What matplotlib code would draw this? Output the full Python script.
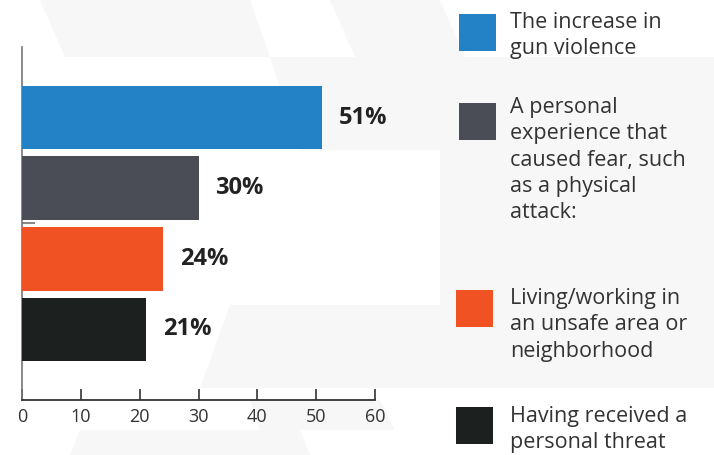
import matplotlib.pyplot as plt
from matplotlib.patches import Polygon

# Данные
values = [51, 30, 24, 21]
value_labels = ["51%", "30%", "24%", "21%"]
colors = ["#2381C6", "#4A4D55", "#F05223", "#1C201F"]
legend_labels = [
    "The increase in\ngun violence",
    "A personal\nexperience that\ncaused fear, such\nas a physical\nattack:",
    "Living/working in\nan unsafe area or\nneighborhood",
    "Having received a\npersonal threat",
]
xticks = [0, 10, 20, 30, 40, 50, 60]

W, H = 714, 455
fig = plt.figure(figsize=(W / 100, H / 100), dpi=100)
fig.patch.set_facecolor("white")

def px(x, y):
    return (x / W, 1 - y / H)

# фон: светло-серые шестиугольные фрагменты
bg = "#f7f7f7"
shapes = [
    [(40, 0), (250, 0), (270, 57), (65, 57)],
    [(330, 0), (440, 0), (465, 57), (355, 57)],
    [(440, 57), (714, 57), (714, 388), (440, 388)],
    [(270, 57), (440, 57), (440, 150), (300, 150)],
    [(230, 305), (440, 305), (440, 388), (200, 388)],
    [(250, 400), (380, 400), (395, 430), (260, 430)],
    [(80, 430), (300, 430), (310, 455), (70, 455)],
]
for s in shapes:
    fig.patches.append(Polygon([px(*p) for p in s], closed=True,
                               transform=fig.transFigure, facecolor=bg,
                               edgecolor="none", zorder=-10))

ax = fig.add_axes([22 / W, 55 / H, (375 - 22) / W, (400 - 47) / H])
ax.set_facecolor("none")

ypos = list(range(len(values)))
ax.barh(ypos, values, height=0.9, color=colors, zorder=3)
for y, v, lab in zip(ypos, values, value_labels):
    ax.text(v + 2.9, y, lab, va="center", ha="left", fontsize=17,
            fontweight="bold", color="#222222", family="Open Sans")

ax.set_xlim(0, 60)
ax.set_ylim(4, -1)
ax.set_xticks(xticks)
ax.set_xticklabels([str(t) for t in xticks], family="Open Sans",
                   fontsize=13, color="#333333")
ax.set_yticks([1.5])
ax.set_yticklabels([""])
ax.tick_params(axis="y", direction="in", length=9, width=1.5,
               color="#888888")
ax.tick_params(axis="x", direction="in", length=8, width=1.2,
               color="#333333", pad=6)
for side in ["top", "right"]:
    ax.spines[side].set_visible(False)
ax.spines["left"].set_color("#777777")
ax.spines["left"].set_linewidth(1.2)
ax.spines["bottom"].set_color("#333333")
ax.spines["bottom"].set_linewidth(1.3)

# легенда справа
sq = [(459, 14), (459, 103), (456, 290), (456, 407)]
text_y = [12, 97, 288, 406]
for (sx, sy), ty, c, lab in zip(sq, text_y, colors, legend_labels):
    x0, y1 = px(sx, sy + 37)
    fig.patches.append(plt.Rectangle((x0, y1), 37 / W, 37 / H,
                                     transform=fig.transFigure,
                                     facecolor=c, edgecolor="none", zorder=2))
    fig.text(510 / W, 1 - ty / H, lab, ha="left", va="top",
             fontsize=15.5, color="#333333", family="Open Sans",
             linespacing=1.33)

fig.savefig("out.png", dpi=100)
